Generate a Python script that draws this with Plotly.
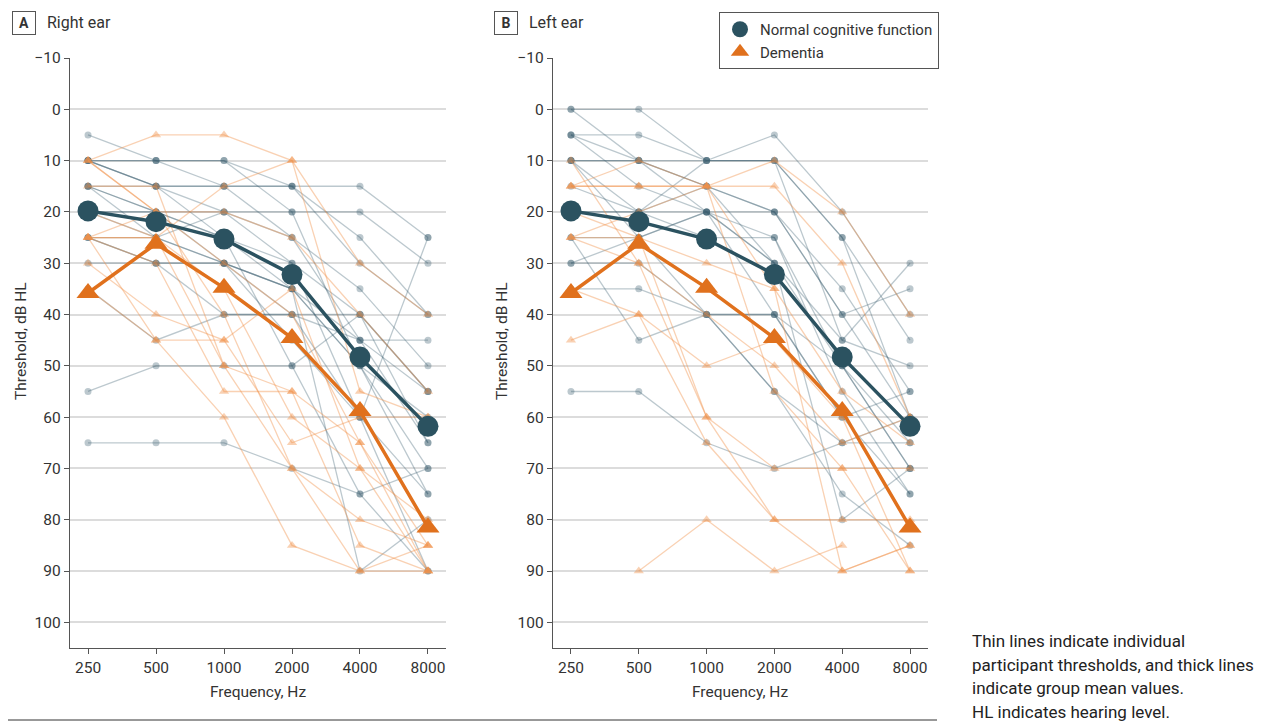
import plotly.graph_objects as go

freqs = ["250", "500", "1000", "2000", "4000", "8000"]

# Right ear individual thresholds (dB HL)
right_normal = [
    [5, 10, 10, 15, 15, 25],
    [10, 10, 15, 25, 45, 55],
    [10, 15, 15, 15, 30, 40],
    [15, 15, 15, 15, 25, 40],
    [15, 20, 20, 30, 40, 65],
    [20, 20, 25, 35, 50, 60],
    [25, 25, 30, 35, 50, 70],
    [25, 30, 30, 40, 60, 75],
    [30, 30, 40, 40, 45, 45],
    [55, 50, 50, 50, 40, 55],
    [65, 65, 65, 70, 75, 70],
    [10, 10, 10, 20, 20, 30],
    [15, 20, 30, 35, 90, 80],
    [20, 25, 30, 45, 60, 25],
    [10, 15, 20, 25, 35, 50],
    [35, 45, 40, 40, 40, 55],
    [20, 20, 25, 30, 60, 90],
    [15, 25, 20, 20, 50, 75],
    [10, 15, 25, 50, 75, 90],
    [25, 30, 30, 35, 45, 65],
]
right_dementia = [
    [10, 5, 5, 10, 30, 40],
    [10, 20, 20, 25, 40, 55],
    [25, 25, 15, 10, 55, 60],
    [25, 20, 30, 40, 65, 85],
    [30, 40, 45, 35, 70, 90],
    [35, 45, 45, 65, 60, 60],
    [20, 25, 50, 55, 65, 90],
    [25, 30, 55, 55, 85, 90],
    [25, 45, 60, 85, 90, 85],
    [15, 15, 50, 70, 80, 85],
    [25, 25, 35, 60, 70, 80],
    [10, 20, 40, 70, 90, 90],
]
# Left ear individual thresholds (dB HL)
left_normal = [
    [0, 0, 10, 5, 20, 40],
    [5, 5, 10, 10, 25, 45],
    [5, 10, 20, 20, 35, 55],
    [10, 10, 10, 10, 25, 60],
    [10, 20, 20, 30, 45, 30],
    [20, 20, 15, 20, 40, 35],
    [25, 25, 20, 25, 50, 70],
    [30, 30, 40, 40, 60, 75],
    [35, 35, 40, 55, 65, 65],
    [55, 55, 65, 70, 65, 60],
    [0, 10, 15, 30, 80, 70],
    [10, 25, 40, 55, 75, 85],
    [15, 20, 10, 10, 45, 50],
    [25, 45, 40, 40, 60, 55],
    [5, 15, 20, 30, 50, 65],
    [20, 20, 25, 25, 55, 75],
    [10, 10, 15, 20, 40, 60],
    [30, 25, 20, 40, 50, 70],
]
left_dementia = [
    [15, 10, 15, 10, 20, 40],
    [15, 15, 15, 15, 30, 60],
    [25, 25, 30, 35, 55, 65],
    [25, 30, 40, 50, 65, 60],
    [45, 40, 50, 45, 60, 90],
    [35, 40, 65, 80, 80, 80],
    [20, 25, 60, 80, 90, 85],
    [None, 90, 80, 90, 85, None],
    [15, 15, 15, 55, 70, 70],
    [25, 20, 15, 35, 90, 85],
    [10, 30, 60, 70, 70, 90],
]

# Group means
right_normal_mean = [19.8, 21.9, 25.3, 32.2, 48.3, 61.8]
right_dementia_mean = [35.8, 26.2, 34.8, 44.6, 58.8, 81.5]
left_normal_mean = [19.8, 21.9, 25.3, 32.2, 48.3, 61.8]
left_dementia_mean = [35.8, 26.2, 34.8, 44.6, 58.8, 81.5]

note_lines = ["Thin lines indicate individual",
              "participant thresholds, and thick lines",
              "indicate group mean values.",
              "HL indicates hearing level."]

NAVY = "#2b5260"
ORANGE = "#e0711d"
THIN_N = "rgba(60,95,112,0.34)"
THIN_D = "rgba(240,145,75,0.42)"
FONT = "Roboto"
TXT = "#333333"

xi = list(range(len(freqs)))
fig = go.Figure()

def add_panel(normal, dementia, nmean, dmean, xa, ya):
    for row in normal:
        fig.add_trace(go.Scatter(x=xi, y=row, mode="lines+markers", xaxis=xa, yaxis=ya,
                                 line=dict(color=THIN_N, width=1.3),
                                 marker=dict(symbol="circle", size=7, color=THIN_N),
                                 showlegend=False, hoverinfo="skip"))
    for row in dementia:
        fig.add_trace(go.Scatter(x=xi, y=row, mode="lines+markers", xaxis=xa, yaxis=ya,
                                 line=dict(color=THIN_D, width=1.3),
                                 marker=dict(symbol="triangle-up", size=9, color=THIN_D),
                                 showlegend=False, hoverinfo="skip"))
    fig.add_trace(go.Scatter(x=xi, y=nmean, mode="lines+markers", xaxis=xa, yaxis=ya,
                             line=dict(color=NAVY, width=3.5),
                             marker=dict(symbol="circle", size=21, color=NAVY),
                             showlegend=False))
    fig.add_trace(go.Scatter(x=xi, y=dmean, mode="lines+markers", xaxis=xa, yaxis=ya,
                             line=dict(color=ORANGE, width=3.5),
                             marker=dict(symbol="triangle-up", size=20, color=ORANGE),
                             showlegend=False))

add_panel(right_normal, right_dementia, right_normal_mean, right_dementia_mean, "x", "y")
add_panel(left_normal, left_dementia, left_normal_mean, left_dementia_mean, "x2", "y2")

# legend-only traces
fig.add_trace(go.Scatter(x=[None], y=[None], mode="markers", name="Normal cognitive function",
                         marker=dict(symbol="circle", size=16, color=NAVY)))
fig.add_trace(go.Scatter(x=[None], y=[None], mode="markers", name="Dementia",
                         marker=dict(symbol="triangle-up", size=16, color=ORANGE)))

# page body has an 8px margin; build the figure so reference pixels land correctly
OFF = 8
W, H = 1264 - OFF, 723 - OFF
def px_x(v):
    return (v - OFF) / W
def px_y(v):
    return 1 - (v - OFF) / H

ydom = [px_y(648), px_y(58)]
xcommon = dict(tickmode="array", tickvals=xi, ticktext=freqs, range=[-0.265, 5.265],
               showgrid=False, zeroline=False, showline=True, linecolor="#555", linewidth=1.3,
               ticks="outside", ticklen=5, tickcolor="#555", automargin=False,
               tickfont=dict(family=FONT, size=15.5, color=TXT))
ycommon = dict(range=[105, -10], tickmode="array", tickvals=list(range(-10, 101, 10)),
               showgrid=True, gridcolor="#dcdcdc", gridwidth=1.5, zeroline=False,
               showline=True, linecolor="#555", linewidth=1.3, automargin=False,
               ticks="outside", ticklen=5, tickcolor="#555",
               tickfont=dict(family=FONT, size=15.5, color=TXT))

fig.update_layout(
    width=W, height=H, margin=dict(l=0, r=0, t=0, b=0),
    plot_bgcolor="white", paper_bgcolor="white",
    font=dict(family=FONT, color=TXT),
    xaxis=dict(domain=[px_x(70), px_x(446)], anchor="y", **xcommon),
    yaxis=dict(domain=ydom, anchor="x", **ycommon),
    xaxis2=dict(domain=[px_x(553), px_x(928)], anchor="y2", **xcommon),
    yaxis2=dict(domain=ydom, anchor="x2", **ycommon),
    legend=dict(x=px_x(719), y=px_y(12), xanchor="left", yanchor="top",
                bordercolor="#555", borderwidth=1, bgcolor="white",
                font=dict(family=FONT, size=15, color=TXT),
                itemwidth=30, tracegroupgap=0),
    showlegend=True,
)

anns = []
for label, bx, title, tx in [("A", 23.5, "Right ear", 45), ("B", 506, "Left ear", 527)]:
    anns.append(dict(text="<b>" + label + "</b>", x=px_x(bx), y=px_y(23), xref="paper", yref="paper",
                     xanchor="center", yanchor="middle", showarrow=False,
                     font=dict(family=FONT, size=14, color=TXT),
                     bordercolor="#555", borderwidth=1, borderpad=2, width=18, height=18))
    anns.append(dict(text=title, x=px_x(tx), y=px_y(23), xref="paper", yref="paper",
                     xanchor="left", yanchor="middle", showarrow=False,
                     font=dict(family=FONT, size=16, color=TXT)))
for cx, ax_x in [(258, 21), (740, 502)]:
    anns.append(dict(text="Frequency, Hz", x=px_x(cx), y=px_y(692), xref="paper", yref="paper",
                     xanchor="center", yanchor="middle", showarrow=False,
                     font=dict(family=FONT, size=15.5, color=TXT)))
    anns.append(dict(text="Threshold, dB HL", x=px_x(ax_x), y=px_y(341), xref="paper", yref="paper",
                     xanchor="center", yanchor="middle", showarrow=False, textangle=-90,
                     font=dict(family=FONT, size=15.5, color=TXT)))
for i, line in enumerate(note_lines):
    anns.append(dict(text=line, x=px_x(970), y=px_y(641 + i * 23.7), xref="paper", yref="paper",
                     xanchor="left", yanchor="middle", align="left", showarrow=False,
                     font=dict(family=FONT, size=17, color="#222")))
fig.update_layout(annotations=anns)

fig.add_shape(type="line", xref="paper", yref="paper", x0=px_x(OFF), x1=px_x(937),
              y0=px_y(720), y1=px_y(720), line=dict(color="#333", width=1))

fig.write_html("out.html")
